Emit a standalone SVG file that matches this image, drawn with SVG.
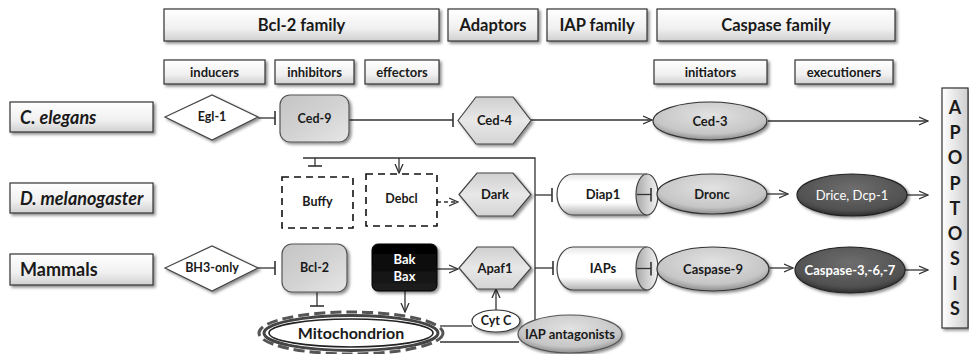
<svg xmlns="http://www.w3.org/2000/svg" width="969" height="354" viewBox="0 0 969 354">
<style>
text{font-family:Lato,"Liberation Sans",sans-serif;font-weight:bold;fill:#1a1a1a;text-anchor:middle}
.hdr{fill:url(#gHdr);stroke:#333;stroke-width:1.2}
.lbl{fill:url(#gHdr);stroke:#333;stroke-width:1.2}
.t15{font-size:16.5px}.t12{font-size:12.5px}.ts{font-size:13px}.t13{font-size:13px}.t17{font-size:18px;text-anchor:start}
.gbox{fill:url(#gGray);stroke:#555;stroke-width:1.2}
.hex{fill:url(#gHex);stroke:#444;stroke-width:1.2}
.ell{fill:url(#gEll);stroke:#333;stroke-width:1.2}
.dell{fill:url(#gDark);stroke:#222;stroke-width:1.2}
.dash{fill:#fff;stroke:#111;stroke-width:1.6;stroke-dasharray:7 5}
.dia{fill:#fff;stroke:#444;stroke-width:1.2}
.cyl{fill:url(#gCyl);stroke:#444;stroke-width:1.2}
.cap{fill:url(#gCap);stroke:#444;stroke-width:1.2}
.c{fill:none;stroke:#333;stroke-width:1.3}
.w{fill:#fff}
.nw{font-weight:normal}
.ap{font-size:18px}
</style>
<defs>
<filter id="sh" x="-20%" y="-20%" width="140%" height="150%"><feDropShadow dx="2" dy="2" stdDeviation="1.5" flood-color="#000" flood-opacity="0.45"/></filter>
<linearGradient id="gHdr" x1="0" y1="0" x2="0" y2="1"><stop offset="0" stop-color="#ffffff"/><stop offset="0.6" stop-color="#f0f0f0"/><stop offset="1" stop-color="#d0d0d0"/></linearGradient>
<linearGradient id="gAp" x1="0" y1="0" x2="1" y2="0"><stop offset="0" stop-color="#ffffff"/><stop offset="1" stop-color="#cfcfcf"/></linearGradient>
<linearGradient id="gGray" x1="0" y1="0" x2="1" y2="1"><stop offset="0" stop-color="#c4c4c4"/><stop offset="0.5" stop-color="#d2d2d2"/><stop offset="1" stop-color="#e6e6e6"/></linearGradient>
<linearGradient id="gHex" x1="0" y1="0" x2="0" y2="1"><stop offset="0" stop-color="#cfcfcf"/><stop offset="0.5" stop-color="#e8e8e8"/><stop offset="1" stop-color="#d4d4d4"/></linearGradient>
<radialGradient id="gEll" cx="0.5" cy="0.35" r="0.65"><stop offset="0" stop-color="#e2e2e2"/><stop offset="0.75" stop-color="#c6c6c6"/><stop offset="1" stop-color="#8e8e8e"/></radialGradient>
<radialGradient id="gDark" cx="0.5" cy="0.35" r="0.65"><stop offset="0" stop-color="#6e6e6e"/><stop offset="0.8" stop-color="#505050"/><stop offset="1" stop-color="#2e2e2e"/></radialGradient>
<linearGradient id="gCyl" x1="0" y1="0" x2="0" y2="1"><stop offset="0" stop-color="#e4e4e4"/><stop offset="0.2" stop-color="#ffffff"/><stop offset="0.7" stop-color="#ffffff"/><stop offset="1" stop-color="#b0b0b0"/></linearGradient>
<linearGradient id="gCap" x1="0" y1="0" x2="1" y2="0"><stop offset="0" stop-color="#a8a8a8"/><stop offset="1" stop-color="#f4f4f4"/></linearGradient>
<linearGradient id="gBlack" x1="0" y1="0" x2="0" y2="1"><stop offset="0" stop-color="#000"/><stop offset="1" stop-color="#1e1e1e"/></linearGradient>
<marker id="arr" viewBox="0 0 10 10" refX="9" refY="5" markerWidth="10" markerHeight="10" markerUnits="userSpaceOnUse" orient="auto"><path d="M0,1 L9,5 L0,9" fill="none" stroke="#333" stroke-width="1.3"/></marker>
<marker id="bar" viewBox="0 0 2 14" refX="1" refY="7" markerWidth="2" markerHeight="14" markerUnits="userSpaceOnUse" orient="auto"><path d="M1,0 L1,14" stroke="#333" stroke-width="1.6"/></marker>
</defs>
<rect width="969" height="354" fill="#fff"/>

<g id="headers">
<g id="h-bcl2"><rect class="hdr" x="164" y="9" width="275" height="32" filter="url(#sh)"/><text class="t15" x="301.5" y="31">Bcl-2 family</text></g>
<g id="h-adaptors"><rect class="hdr" x="448" y="9" width="90" height="32" filter="url(#sh)"/><text class="t15" x="493" y="31">Adaptors</text></g>
<g id="h-iap"><rect class="hdr" x="547" y="9" width="100" height="32" filter="url(#sh)"/><text class="t15" x="597" y="31">IAP family</text></g>
<g id="h-caspase"><rect class="hdr" x="657" y="9" width="238" height="32" filter="url(#sh)"/><text class="t15" x="776" y="31">Caspase family</text></g>
<g id="s-inducers"><rect class="hdr" x="164" y="60" width="101" height="24" filter="url(#sh)"/><text class="ts" x="214.5" y="76.5">inducers</text></g>
<g id="s-inhibitors"><rect class="hdr" x="275" y="60" width="79" height="24" filter="url(#sh)"/><text class="ts" x="314.5" y="76.5">inhibitors</text></g>
<g id="s-effectors"><rect class="hdr" x="365" y="60" width="74" height="24" filter="url(#sh)"/><text class="ts" x="402" y="76.5">effectors</text></g>
<g id="s-initiators"><rect class="hdr" x="654" y="60" width="113" height="24" filter="url(#sh)"/><text class="ts" x="710.5" y="76.5">initiators</text></g>
<g id="s-executioners"><rect class="hdr" x="795" y="60" width="98" height="24" filter="url(#sh)"/><text class="ts" x="844" y="76.5">executioners</text></g>
</g>

<g id="rowlabels">
<g id="r-celegans"><rect class="lbl" x="10" y="102" width="143" height="30" filter="url(#sh)"/><text class="t17" x="20" y="123.5" font-style="italic">C. elegans</text></g>
<g id="r-dmel"><rect class="lbl" x="10" y="183" width="143" height="30" filter="url(#sh)"/><text class="t17" x="20" y="204.5" font-style="italic">D. melanogaster</text></g>
<g id="r-mammals"><rect class="lbl" x="10" y="254" width="143" height="31" filter="url(#sh)"/><text class="t17" x="20" y="276">Mammals</text></g>
</g>

<g id="connectors">
<path class="c" d="M258,118 L275,118" marker-end="url(#bar)"/>
<path class="c" d="M349,120 L453,120" marker-end="url(#bar)"/>
<path class="c" d="M531,120 L652,120" marker-end="url(#arr)"/>
<path class="c" d="M768,121 L928,121" marker-end="url(#arr)"/>
<path class="c" d="M303,158 L535,158 L535,320"/>
<path class="c" d="M315,158 L315,166" marker-end="url(#bar)"/>
<path class="c" d="M399,158 L399,173" marker-end="url(#arr)"/>
<path class="c" d="M437,202 L458,202" stroke-dasharray="4 3" marker-end="url(#arr)"/>
<path class="c" d="M535,195 L552,195" marker-end="url(#bar)"/>
<path class="c" d="M535,268 L553,268" marker-end="url(#bar)"/>
<path class="c" d="M767,194 L788,194" marker-end="url(#arr)"/>
<path class="c" d="M907,195 L928,195" marker-end="url(#arr)"/>
<path class="c" d="M258,268 L275,268" marker-end="url(#bar)"/>
<path class="c" d="M317,292 L317,306" marker-end="url(#bar)"/>
<path class="c" d="M405,291 L405,312" marker-end="url(#arr)"/>
<path class="c" d="M437,269 L458,269" marker-end="url(#arr)"/>
<path class="c" d="M496,310 L496,289" marker-end="url(#arr)"/>
<path class="c" d="M440,326 L472,326"/>
<path class="c" d="M440,342 L519,342"/>
<path class="c" d="M770,268 L793,268" marker-end="url(#arr)"/>
<path class="c" d="M905,270 L928,270" marker-end="url(#arr)"/>
</g>

<g id="egl1"><polygon class="dia" points="165,117 212,95 258,117 212,140" filter="url(#sh)"/><text class="t12" x="212" y="121">Egl-1</text></g>
<g id="ced9"><rect class="gbox" x="280" y="95" width="69" height="47" rx="10" filter="url(#sh)"/><text class="t12" x="314.5" y="123">Ced-9</text></g>
<g id="ced4"><polygon class="hex" points="458,120.5 476,97 513,97 531,120.5 513,144 476,144" filter="url(#sh)"/><text class="t13" x="494.5" y="125">Ced-4</text></g>
<g id="ced3"><ellipse class="ell" cx="710" cy="121" rx="57" ry="19" filter="url(#sh)"/><text class="t13" x="710" y="125.5">Ced-3</text></g>

<g id="buffy"><rect class="dash" x="282" y="177" width="71" height="51"/><text class="t12" x="317.5" y="206">Buffy</text></g>
<g id="debcl"><rect class="dash" x="366" y="174" width="71" height="52"/><text class="t12" x="401.5" y="203">Debcl</text></g>
<g id="dark"><polygon class="hex" points="459,194.5 477,173 513,173 531,194.5 513,216 477,216" filter="url(#sh)"/><text class="t13" x="495" y="199">Dark</text></g>
<g id="diap1"><path class="cyl" d="M647,174 L573,174 A16,20.5 0 0 0 573,215 L647,215" filter="url(#sh)"/><ellipse class="cap" cx="647" cy="194.5" rx="11" ry="20.5"/><text class="t13" x="603" y="199">Diap1</text></g>
<path class="c" d="M637,194.5 L651,194.5" marker-end="url(#bar)"/>
<g id="dronc"><ellipse class="ell" cx="712" cy="194" rx="55" ry="20" filter="url(#sh)"/><text class="t13" x="712" y="198.5">Dronc</text></g>
<g id="drice"><ellipse class="dell" cx="852" cy="195" rx="55" ry="21" filter="url(#sh)"/><text class="t13 w nw" x="852" y="199.5">Drice, Dcp-1</text></g>

<g id="bh3"><polygon class="dia" points="165,268 212,246 258,268 212,291" filter="url(#sh)"/><text class="t12" x="212" y="272">BH3-only</text></g>
<g id="bcl2"><rect class="gbox" x="282" y="244" width="65" height="48" rx="10" filter="url(#sh)"/><text class="t12" x="314.5" y="272">Bcl-2</text></g>
<g id="bakbax"><rect x="372" y="244" width="65" height="47" rx="6" fill="url(#gBlack)" stroke="#000" filter="url(#sh)"/><text class="t13 w" x="404.5" y="264">Bak</text><text class="t13 w" x="404.5" y="281">Bax</text></g>
<g id="apaf1"><polygon class="hex" points="459,268 477,247 513,247 531,268 513,289 477,289" filter="url(#sh)"/><text class="t13" x="495" y="272.5">Apaf1</text></g>
<g id="iaps"><path class="cyl" d="M647,247 L573,247 A16,21.5 0 0 0 573,290 L647,290" filter="url(#sh)"/><ellipse class="cap" cx="647" cy="268.5" rx="11" ry="21.5"/><text class="t13" x="603" y="273">IAPs</text></g>
<path class="c" d="M637,268.5 L651,268.5" marker-end="url(#bar)"/>
<g id="casp9"><ellipse class="ell" cx="713" cy="269" rx="56" ry="22" filter="url(#sh)"/><text class="t13" x="713" y="273.5">Caspase-9</text></g>
<g id="casp367"><ellipse class="dell" cx="850" cy="270" rx="55" ry="23" filter="url(#sh)"/><text class="t13 w" x="850" y="274.5">Caspase-3,-6,-7</text></g>

<g id="cytc"><ellipse cx="496" cy="321" rx="24" ry="11" fill="#fff" stroke="#333" stroke-width="1.2" filter="url(#sh)"/><text class="t12" x="496" y="325">Cyt C</text></g>
<g id="iapant"><ellipse cx="570" cy="334" rx="52" ry="19" fill="url(#gEll)" stroke="#555" stroke-width="1.2" filter="url(#sh)"/><text class="t13" x="570" y="338.5">IAP antagonists</text></g>
<g id="mito">
<ellipse cx="351" cy="333" rx="92" ry="21" fill="none" stroke="#555" stroke-width="3" stroke-dasharray="11 5"/>
<ellipse cx="351" cy="333" rx="87" ry="17.5" fill="#fff" stroke="#444" stroke-width="3"/>
<ellipse cx="351" cy="333" rx="82" ry="14" fill="#fff" stroke="#222" stroke-width="1.6"/>
<text x="351" y="339" font-size="16">Mitochondrion</text>
</g>

<g id="apoptosis">
<rect x="942" y="88" width="26" height="240" fill="url(#gAp)" stroke="#333" stroke-width="1.2" filter="url(#sh)"/>
<text class="ap" x="955" y="114">A</text>
<text class="ap" x="955" y="139">P</text>
<text class="ap" x="955" y="164">O</text>
<text class="ap" x="955" y="190">P</text>
<text class="ap" x="955" y="215">T</text>
<text class="ap" x="955" y="240">O</text>
<text class="ap" x="955" y="265">S</text>
<text class="ap" x="955" y="290">I</text>
<text class="ap" x="955" y="315">S</text>
</g>
</svg>
